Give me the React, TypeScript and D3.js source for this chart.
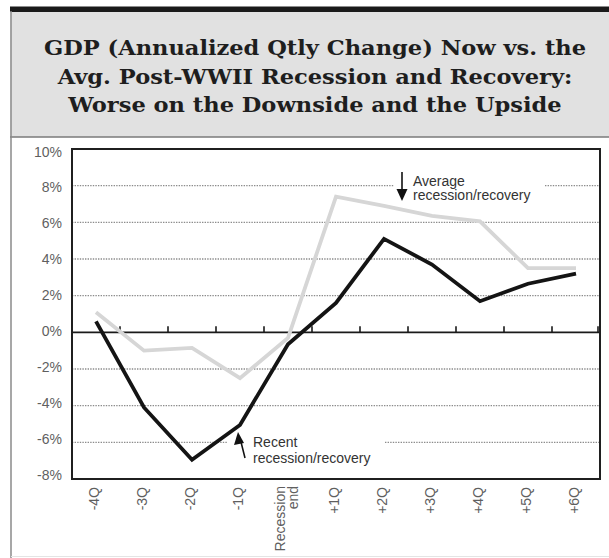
import React from "react";
import * as d3 from "d3";

const categories = ["-4Q", "-3Q", "-2Q", "-1Q", "Recession end", "+1Q", "+2Q", "+3Q", "+4Q", "+5Q", "+6Q"];
const recentValues = [0.6, -4.1, -6.95, -5.05, -0.65, 1.6, 5.1, 3.7, 1.7, 2.65, 3.2];
const averageValues = [1.1, -1.0, -0.85, -2.5, -0.3, 7.4, 6.9, 6.35, 6.05, 3.5, 3.5];
const yTicks = [-8, -6, -4, -2, 0, 2, 4, 6, 8, 10];
const titleLines = [
  "GDP (Annualized Qtly Change) Now vs. the",
  "Avg. Post-WWII Recession and Recovery:",
  "Worse on the Downside and the Upside",
];

const W = 609;
const H = 558;
const left = 72;
const right = 600;
const top = 149;
const bottom = 479;

export default function App() {
  const x = d3.scaleBand<string>().domain(categories).range([left, right]).padding(0);
  const y = d3.scaleLinear().domain([-8, 10]).range([bottom, top]);
  const cx = (c: string) => (x(c) as number) + x.bandwidth() / 2;

  const line = d3
    .line<number>()
    .x((_, i) => cx(categories[i]))
    .y((d) => y(d));

  const sans = "'Liberation Sans', Arial, sans-serif";
  const textGray = "#5f5f5f";

  const avgBox = { x0: 394, x1: 545, y0: 168, y1: 204 };
  const recBox = { x0: 228, x1: 385, y0: 432, y1: 468 };

  const boundaries = categories.map((c) => x(c) as number).slice(1).concat([right - 2]);

  return (
    <svg
      width={W}
      height={H}
      style={{ position: "absolute", left: 0, top: 0, background: "#fff" }}
    >
      <rect x={10.5} y={11} width={W} height={126} fill="#e1e1e1" />
      <rect x={10} y={6.5} width={W} height={5.5} fill="#1a1a1a" />
      <line x1={10} x2={W} y1={137} y2={137} stroke="#7a7a7a" strokeWidth={1.5} />
      <line x1={11} x2={11} y1={11} y2={H} stroke="#8a8a8a" strokeWidth={1.5} />
      <line x1={11} x2={W} y1={556.5} y2={556.5} stroke="#e4e4e4" strokeWidth={1} />
      {titleLines.map((t, i) => (
        <text
          key={i}
          transform={`translate(315,${55 + i * 28.5}) scale(1.1,1)`}
          textAnchor="middle"
          fontFamily="DejaVu Serif"
          fontWeight="bold"
          fontSize={20.5}
          fill="#1e1e1e"
        >
          {t}
        </text>
      ))}

      {yTicks
        .filter((v) => v !== 10 && v !== -8 && v !== 0)
        .map((v) => {
          const yy = y(v);
          const segs: [number, number][] = [];
          if (yy > avgBox.y0 && yy < avgBox.y1) {
            segs.push([left, avgBox.x0], [avgBox.x1, right]);
          } else if (yy > recBox.y0 && yy < recBox.y1) {
            segs.push([left, recBox.x0], [recBox.x1, right]);
          } else {
            segs.push([left, right]);
          }
          return segs.map((s, j) => (
            <line
              key={v + "-" + j}
              x1={s[0]}
              x2={s[1]}
              y1={yy}
              y2={yy}
              stroke="#8c8c8c"
              strokeWidth={1.4}
              strokeDasharray="1.4,1.2"
            />
          ));
        })}

      <line x1={left} x2={right} y1={y(0)} y2={y(0)} stroke="#1a1a1a" strokeWidth={1.6} />
      {boundaries.map((bx, i) => (
        <line key={i} x1={bx} x2={bx} y1={y(0)} y2={y(0) - 6} stroke="#1a1a1a" strokeWidth={1.6} />
      ))}

      <path d={line(averageValues) as string} fill="none" stroke="#d6d6d6" strokeWidth={3.8} />
      <path d={line(recentValues) as string} fill="none" stroke="#141414" strokeWidth={3.8} />

      <rect
        x={left}
        y={top}
        width={right - left}
        height={bottom - top}
        fill="none"
        stroke="#1f1f1f"
        strokeWidth={2}
      />

      {yTicks.map((v) => (
        <text
          key={v}
          x={62}
          y={y(v) + v * 0.3 + (v === 10 ? 1.5 : 0)}
          dominantBaseline="middle"
          textAnchor="end"
          fontFamily={sans}
          fontSize={14}
          fill={textGray}
        >
          {v + "%"}
        </text>
      ))}

      {categories.map((c) => {
        const xx = cx(c) - 1;
        if (c === "Recession end") {
          return (
            <g key={c}>
              <text
                transform={`translate(${xx - 6},486) rotate(-90)`}
                textAnchor="end"
                dominantBaseline="middle"
                fontFamily={sans}
                fontSize={14}
                fill={textGray}
              >
                Recession
              </text>
              <text
                transform={`translate(${xx + 7},486) rotate(-90)`}
                textAnchor="end"
                dominantBaseline="middle"
                fontFamily={sans}
                fontSize={14}
                fill={textGray}
              >
                end
              </text>
            </g>
          );
        }
        return (
          <text
            key={c}
            transform={`translate(${xx},487) rotate(-90)`}
            textAnchor="end"
            dominantBaseline="middle"
            fontFamily={sans}
            fontSize={14}
            fill={textGray}
          >
            {c}
          </text>
        );
      })}

      <line x1={402} x2={402} y1={172} y2={191} stroke="#111" strokeWidth={1.6} />
      <path d="M396.5,189 L407.5,189 L402,201 Z" fill="#111" />
      <text x={413} y={185.5} fontFamily={sans} fontSize={14} fill="#333">
        Average
      </text>
      <text x={413} y={200} fontFamily={sans} fontSize={14} fill="#333">
        recession/recovery
      </text>

      <line x1={245} x2={240.5} y1={458} y2={440} stroke="#111" strokeWidth={1.6} />
      <path d="M238,432 L234,445 L244,443 Z" fill="#111" />
      <text x={253} y={447} fontFamily={sans} fontSize={14} fill="#333">
        Recent
      </text>
      <text x={253} y={463} fontFamily={sans} fontSize={14} fill="#333">
        recession/recovery
      </text>
    </svg>
  );
}
